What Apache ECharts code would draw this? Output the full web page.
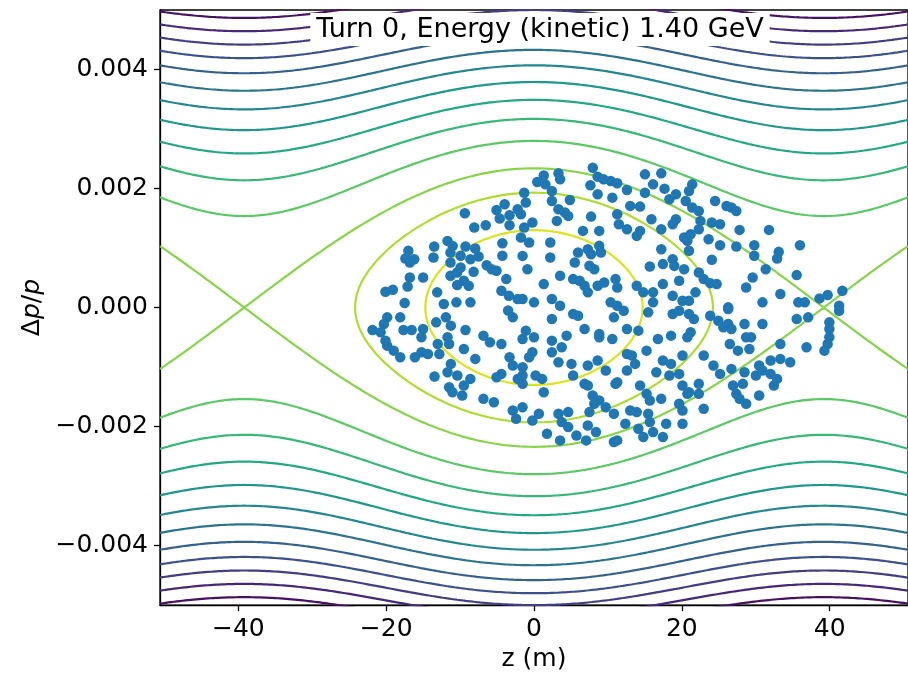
<!DOCTYPE html>
<html><head><meta charset="utf-8">
<script src="https://cdn.jsdelivr.net/npm/echarts@6/dist/echarts.min.js"></script>
<style>html,body{margin:0;padding:0;background:#fff}#c{width:908px;height:677px}</style>
</head><body><div id="c"></div>
<script>
// ---- axes ----
const xTicks = [-40, -20, 0, 20, 40];
const yTicks = [-0.004, -0.002, 0, 0.002, 0.004];
const xRange = [-50.6, 50.6];
const yRange = [-0.005, 0.005];
const titleText = 'Turn 0, Energy (kinetic) 1.40 GeV';

// ---- RF bucket (contours of the Hamiltonian) ----
const bucketHalfLength = 39.2;      // m, position of the unstable fixed points
const separatrixDelta0 = 2.34;      // 1e-3, separatrix height at z = 0
// contour levels given by their height Δp/p at z = 0 (1e-3)
const contourDelta0 = [1.30, 1.93, 2.34, 2.80, 3.17, 3.49, 3.79, 4.07, 4.33, 4.58, 4.80, 5.00, 5.20, 5.40];

// ---- particles: [z (m), Δp/p (1e-3)] ----
const particles = [
[-9.36,1.584],[-8.08,1.344],[-6.53,1.383],[-5.07,1.640],[-3.97,1.735],[-4.64,1.495],[-3.31,1.551],[-3.31,1.383],[-2.21,1.651],[-4.28,1.081],
[-4.28,0.869],[-17.0,0.953],[-17.4,0.824],[-16.2,0.813],[-16.8,0.757],[-13.5,1.026],[-13.6,0.841],[-11.7,1.120],[-11.0,1.036],[-11.3,0.925],
[-9.93,0.869],[-9.27,1.026],[-7.95,0.992],[-7.5,0.858],[-8.6,0.813],[-6.4,0.712],[-5.74,0.645],[-5.07,0.617],[-11.3,0.757],[-16.8,0.506],
[-17.1,0.355],[-15.0,0.506],[-20.1,0.265],[-19.1,0.299],[-17.5,0.075],[-11.3,0.533],[-10.4,0.590],[-9.93,0.674],[-9.49,0.449],[-8.83,0.366],
[-10.4,0.377],[-8.17,0.600],[-3.75,0.478],[-4.41,0.282],[-3.40,0.198],[-2.21,0.142],[-13.1,0.255],[-12.2,0.059],[-10.5,0.087],[-8.6,0.087],
[7.95,2.35],[3.31,2.255],[1.32,2.22],[3.53,2.155],[0.44,2.11],[1.54,2.07],[8.61,2.20],[9.40,2.155],[10.37,2.127],[11.26,2.088],
[7.63,2.054],[15.01,2.238],[17.22,2.255],[16.11,2.07],[17.66,1.998],[12.58,1.976],[-1.33,1.93],[2.42,1.959],[2.42,1.79],[4.85,1.808],
[8.61,1.903],[10.6,1.847],[-1.11,1.764],[3.31,1.652],[4.19,1.596],[13.02,1.708],[14.35,1.696],[15.01,1.93],[18.32,1.819],[19.2,1.903],
[-1.77,1.568],[-0.22,1.428],[-1.33,1.344],[3.09,1.456],[4.63,1.54],[7.72,1.528],[11.26,1.568],[11.48,1.40],[12.58,1.316],[15.89,1.484],
[19.2,1.484],[6.62,1.288],[8.83,1.288],[14.35,1.288],[17.22,1.316],[18.76,1.40],[-1.77,1.176],[-0.66,1.092],[2.2,1.092],[-1.55,0.868],
[2.2,0.841],[5.96,0.925],[7.28,0.98],[7.72,0.897],[8.83,1.037],[9.05,0.925],[13.9,1.204],[17.22,0.98],[18.76,0.813],[20.31,1.176],
[-0.89,0.645],[5.52,0.757],[7.5,0.701],[8.16,0.645],[3.53,0.533],[1.32,0.394],[15.67,0.69],[17.44,0.73],[18.98,0.70],[20.31,0.645],
[19.64,0.45],[5.29,0.478],[6.18,0.45],[6.84,0.366],[7.28,0.255],[8.61,0.366],[9.49,0.422],[11.03,0.478],[11.26,0.338],[13.9,0.366],
[14.79,0.255],[16.11,0.255],[17.44,0.394],[18.76,0.198],[-1.55,0.143],[0.0,0.087],[2.42,0.143],[3.53,0.031],[10.37,0.087],[11.26,0.031],
[16.11,0.087],[20.09,0.115],
[21.41,2.07],[20.97,1.959],[20.53,1.79],[21.41,1.68],[22.3,1.623],[22.52,1.456],[22.3,1.316],[21.19,1.232],[20.75,1.12],[20.97,0.953],
[24.5,1.79],[26.05,1.707],[26.71,1.68],[27.37,1.623],[24.06,1.428],[25.17,1.40],[23.62,1.148],[25.17,1.048],[27.81,1.305],[27.37,1.025],
[29.8,1.048],[29.8,0.869],[31.79,1.305],[33.11,0.936],[32.89,0.825],[35.98,1.048],[24.06,0.802],[31.35,0.645],[29.58,0.506],[28.7,0.338],
[35.54,0.545],[33.33,0.227],[30.91,0.087],[26.27,0.003],[21.85,0.255],[22.3,0.59],[22.96,0.478],[23.84,0.41],[24.72,0.394],[20.97,0.115],
[35.76,0.087],[36.64,0.087],[38.63,0.154],[39.73,0.21],[41.72,0.283],[41.28,0.031],
[-19.86,-0.165],[-18.1,-0.165],[-20.31,-0.277],[-21.85,-0.377],[-20.75,-0.416],[-20.09,-0.556],[-19.86,-0.64],[-18.98,-0.724],[-18.1,-0.836],[-17.66,-0.377],
[-16.55,-0.377],[-15.01,-0.36],[-15.23,-0.50],[-16.11,-0.836],[-15.23,-0.752],[-14.35,-0.78],[-13.24,-0.249],[-11.92,-0.165],[-11.25,-0.304],[-9.27,-0.377],
[-6.84,-0.472],[-5.96,-0.584],[-4.41,-0.612],[-2.87,-0.165],[-13.02,-0.612],[-11.7,-0.50],[-11.48,-0.612],[-12.8,-0.78],[-9.49,-0.696],[-7.94,-0.863],
[-11.25,-0.947],[-11.7,-1.087],[-10.37,-1.143],[-13.46,-1.16],[-8.61,-1.199],[-9.49,-1.31],[-11.48,-1.338],[-11.03,-1.422],[-9.71,-1.478],[-6.84,-1.534],
[-5.43,-1.59],[-2.87,-1.73],[-2.42,-1.869],[-3.31,-0.836],[-2.87,-0.975],[-4.41,-1.115],[-2.2,-1.199],
[-3.5,-0.05],[-1.54,-1.003],[-1.54,-1.282],[-5.07,-1.17],
[2.42,-0.193],[5.96,-0.137],[10.81,-0.165],[19.64,-0.053],[15.45,-0.081],[6.84,-0.36],[8.83,-0.444],[10.59,-0.528],[12.58,-0.36],[14.12,-0.388],
[16.77,-0.528],[18.54,-0.472],[-1.55,-0.528],[0.0,-0.50],[2.42,-0.556],[3.75,-0.668],[4.41,-0.472],[-0.22,-0.752],[-0.66,-0.836],[2.42,-0.752],
[3.31,-0.919],[5.07,-0.947],[7.28,-0.975],[8.61,-0.891],[9.71,-1.059],[12.58,-0.78],[13.24,-0.807],[13.68,-0.947],[15.23,-0.724],[17.44,-0.891],
[18.54,-0.947],[20.09,-0.807],[-1.55,-1.143],[0.22,-1.143],[1.1,-1.199],[5.29,-1.143],[6.84,-1.282],[7.94,-1.478],[8.83,-1.562],[11.03,-1.282],
[12.58,-1.059],[14.35,-1.31],[15.23,-1.45],[15.67,-1.562],[17.21,-1.534],[16.55,-1.087],[18.32,-1.143],[19.64,-1.115],[20.09,-1.31],[20.75,-1.45],
[1.32,-1.422],[0.66,-1.785],[-0.22,-1.897],[3.31,-1.785],[4.63,-1.757],[3.75,-1.925],[4.63,-2.009],[5.74,-2.149],[7.28,-1.981],[8.39,-2.093],
[7.5,-1.757],[10.81,-1.785],[12.36,-1.953],[13.02,-1.729],[13.9,-1.757],[15.45,-1.785],[15.67,-1.925],[14.12,-2.037],[16.11,-2.093],[17.88,-1.953],
[19.64,-1.618],[20.09,-1.729],[20.09,-1.953],[1.76,-2.12],[3.53,-2.232],[10.81,-2.26],[11.26,-2.232],[17.44,-2.176],
[5.30,-0.109],[12.14,-0.053],[18.76,-0.109],[-1.1,-0.388],[8.83,-0.50],[11.26,-1.254],[7.28,-1.31],[8.16,-1.618],[9.71,-1.674],[-1.55,-1.674],
[7.06,-2.232],[14.79,-2.176],
[20.97,-0.109],[21.63,-0.193],[21.19,-0.416],[20.75,-0.50],[23.84,-0.137],[24.94,-0.221],[25.61,-0.332],[26.27,-0.277],[26.71,-0.36],[26.27,-0.025],
[28.48,-0.277],[30.91,-0.277],[28.7,-0.50],[29.36,-0.50],[26.49,-0.612],[27.59,-0.724],[29.14,-0.696],[33.33,-0.612],[22.96,-0.807],[24.28,-0.975],
[25.17,-1.115],[26.71,-1.031],[28.48,-1.087],[30.02,-1.143],[30.46,-0.975],[30.91,-1.059],[32.01,-1.115],[32.01,-0.891],[33.33,-0.863],[34.66,-0.919],
[32.89,-1.199],[32.45,-1.31],[22.3,-1.282],[22.3,-1.45],[20.97,-1.422],[22.96,-1.701],[26.93,-1.31],[27.37,-1.45],[28.26,-1.282],[27.81,-1.534],
[28.7,-1.618],[30.46,-1.478],[35.54,-0.193],[37.09,-0.165],[39.96,-0.249],[39.96,-0.36],[39.96,-0.50],[39.73,-0.612],[39.29,-0.724],[41.28,-0.053],
[36.87,-0.668]
];

// ---- styles ----
const viridis = ['#440154','#471365','#482475','#463480','#414487','#3b528b','#355f8d','#2f6c8e','#2a788e','#25848e','#21918c','#1e9c89','#22a884','#2fb47c','#44bf70','#5ec962','#7ad151','#9bd93c','#bddf26','#dfe318','#fde725'];
function hex2rgb(h){return [parseInt(h.slice(1,3),16),parseInt(h.slice(3,5),16),parseInt(h.slice(5,7),16)];}
function cmap(t){
  t = Math.max(0, Math.min(1, t));
  const f = t * (viridis.length - 1), i = Math.min(Math.floor(f), viridis.length - 2), r = f - i;
  const a = hex2rgb(viridis[i]), b = hex2rgb(viridis[i+1]);
  return 'rgb(' + a.map((v,j)=>Math.round(v + (b[j]-v)*r)).join(',') + ')';
}
const FONT = 'DejaVu Sans';
const FS = 25;

// ---- build contour series from the Hamiltonian H = δ² + C(1 - cos kz) ----
const k = Math.PI / bucketHalfLength;
const C = separatrixDelta0 * separatrixDelta0 / 2;
const pot = z => C * (1 - Math.cos(k * z));
// colour norm spans the Hamiltonian's range over the plotted window (0 at centre .. max at the corners)
const Hwin = Math.pow(yRange[1] * 1e3, 2) + 2 * C;
const levelsH = contourDelta0.map(d => d * d);
const series = [];
levelsH.forEach(H => {
  const color = cmap(1 - H / Hwin);
  const style = {color: color, width: 2.2};
  const base = {type: 'line', showSymbol: false, symbol: 'none', silent: true, lineStyle: style, z: 2, animation: false};
  if (H < 2 * C - 1e-9) {
    const zmax = Math.acos(1 - H / C) / k;
    const pts = [];
    const N = 300;
    for (let i = 0; i <= N; i++) {
      const s = -Math.PI / 2 + Math.PI * i / N;
      const z = zmax * Math.sin(s);
      pts.push([z, Math.sqrt(Math.max(0, H - pot(z))) * 1e-3]);
    }
    for (let i = N; i >= 0; i--) {
      const s = -Math.PI / 2 + Math.PI * i / N;
      const z = zmax * Math.sin(s);
      pts.push([z, -Math.sqrt(Math.max(0, H - pot(z))) * 1e-3]);
    }
    series.push(Object.assign({}, base, {data: pts}));
  } else {
    const up = [], dn = [];
    const N = 800;
    for (let i = 0; i <= N; i++) {
      const z = xRange[0] + (xRange[1] - xRange[0]) * i / N;
      const d = Math.sqrt(Math.max(0, H - pot(z))) * 1e-3;
      up.push([z, d]); dn.push([z, -d]);
    }
    series.push(Object.assign({}, base, {data: up}));
    series.push(Object.assign({}, base, {data: dn}));
  }
});
series.push({
  type: 'scatter', data: particles.map(p => [p[0], p[1] * 1e-3]),
  symbolSize: 10.5, itemStyle: {color: '#1f77b4', opacity: 1}, z: 5, silent: true, animation: false
});

const fmtMinus = s => s.replace('-', '\u2212');
const chart = echarts.init(document.getElementById('c'), null, {renderer: 'canvas'});
chart.setOption({
  backgroundColor: '#fff',
  animation: false,
  grid: {left: 160, top: 10, width: 759, height: 597, show: true, borderColor: '#000', borderWidth: 1.3, backgroundColor: 'transparent', containLabel: false},
  xAxis: {
    type: 'value', min: xRange[0], max: xRange[1],
    name: 'z (m)', nameLocation: 'middle', nameGap: 38,
    nameTextStyle: {fontFamily: FONT, fontSize: FS, color: '#000'},
    axisLine: {show: true, onZero: false, lineStyle: {color: '#000', width: 1.3}},
    axisTick: {show: true, length: 6, customValues: xTicks, lineStyle: {color: '#000', width: 1.3}},
    axisLabel: {show: true, customValues: xTicks, margin: 12, fontFamily: FONT, fontSize: FS, color: '#000',
      formatter: v => fmtMinus(String(v))},
    splitLine: {show: false}
  },
  yAxis: {
    type: 'value', min: yRange[0], max: yRange[1],
    name: '{a|\u0394}{b|p}{a|/}{b|p}', nameLocation: 'middle', nameGap: 112, nameRotate: 90,
    nameTextStyle: {fontFamily: FONT, fontSize: FS, color: '#000', rich: {
      a: {fontFamily: FONT, fontSize: FS, color: '#000'},
      b: {fontFamily: FONT, fontSize: FS, color: '#000', fontStyle: 'italic'}}},
    axisLine: {show: true, onZero: false, lineStyle: {color: '#000', width: 1.3}},
    axisTick: {show: true, length: 6, customValues: yTicks, lineStyle: {color: '#000', width: 1.3}},
    axisLabel: {show: true, customValues: yTicks, margin: 12, fontFamily: FONT, fontSize: FS, color: '#000',
      formatter: v => fmtMinus(Math.abs(v) < 1e-12 ? '0.000' : v.toFixed(3))},
    splitLine: {show: false}
  },
  graphic: [{
    type: 'text', x: 540, y: 13, z: 100,
    style: {text: titleText, fill: '#000', font: '27px "' + FONT + '"', align: 'center', verticalAlign: 'top',
      backgroundColor: '#fff', padding: [3, 6, 3, 6]}
  }],
  series: series
});
</script></body></html>
